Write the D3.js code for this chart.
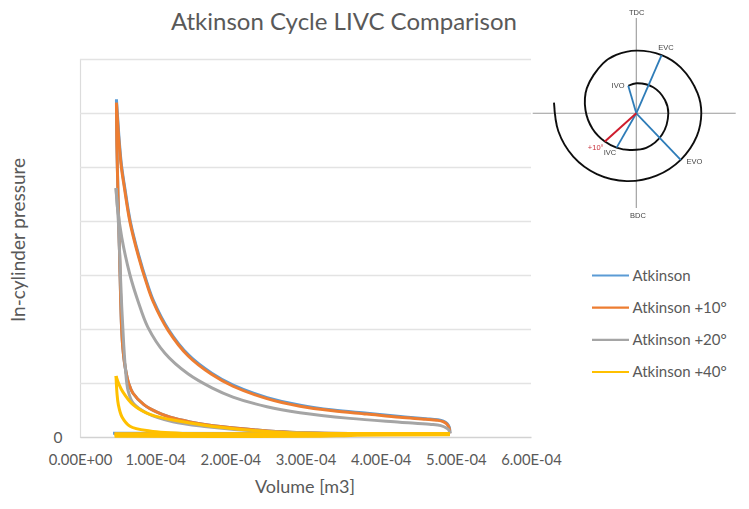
<!DOCTYPE html>
<html>
<head>
<meta charset="utf-8">
<script src="https://cdn.jsdelivr.net/npm/d3@7"></script>
<style>
html,body{margin:0;padding:0;background:#fff}
svg{display:block}
text{font-family:Lato,"Open Sans",sans-serif;fill:#595959}
</style>
</head>
<body>
<svg id="chart" width="749" height="509"></svg>
<script>
// Volume in cm3 (1e-6 m3), pressure in grid divisions above zero.
const xTicks = [0, 100, 200, 300, 400, 500, 600];
const xTickLabels = ['0.00E+00','1.00E-04','2.00E-04','3.00E-04','4.00E-04','5.00E-04','6.00E-04'];
const yGrid = [1, 2, 3, 4, 5, 6, 7];

// Each cycle: compression stroke up to peak pressure, power stroke down, gas exchange along the bottom.
const atkinsonCompV = [492,400,279,235.4,190,146.3,120,102.4,85,70.5,65,60,57,55.5,54.5,52.5,50.5,49,48.5];
const atkinsonCompP = [0.06,0.06,0.09,0.13,0.19,0.28,0.365,0.46,0.6,0.81,0.98,1.3,1.65,1.98,2.35,3.46,4.5,5.45,6.25];
const atkinsonExpV = [48.5,50.3,52.3,55.3,59.3,66.8,77.8,89,97.8,117.7,144.3,175.3,203.8,249,293,336.8,382,426,460,475.3,483.3,488.3,491.3,492.3];
const atkinsonExpP = [6.25,5.87,5.47,5.02,4.64,4.0,3.38,2.86,2.52,1.99,1.52,1.18,0.96,0.73,0.59,0.5,0.44,0.38,0.34,0.32,0.295,0.25,0.18,0.07];
const atkinsonGasV = [492,44];
const atkinsonGasP = [0.06,0.07];

const plus10CompV = [492,400,279,235.4,190,146.3,120,102.4,85,70.5,65,60,57,55.5,54.5,52.5,50.5,49,48.5];
const plus10CompP = [0.06,0.06,0.09,0.13,0.19,0.28,0.365,0.46,0.6,0.81,0.98,1.3,1.65,1.98,2.35,3.46,4.5,5.4,6.19];
const plus10ExpV = [48.5,50,52,55,59,66.5,77.5,88.7,97.5,117.4,144,175,203.5,248.7,292.6,336.4,381.6,425.5,460,475,483,488,491,492];
const plus10ExpP = [6.19,5.85,5.45,5,4.62,3.98,3.36,2.84,2.5,1.97,1.5,1.16,0.94,0.71,0.57,0.485,0.425,0.365,0.33,0.31,0.285,0.24,0.17,0.07];
const plus10GasV = [492,46];
const plus10GasP = [0.06,0.06];

const plus20CompV = [492,320,235.4,168.9,123.7,89.1,70.5,63.8,60.5,58,55.5,53,51,47.9];
const plus20CompP = [0.06,0.07,0.11,0.19,0.28,0.44,0.63,0.87,1.25,1.75,2.41,3.3,4,4.61];
const plus20ExpV = [47.9,49.9,55.5,66.5,77.1,90.4,113,143.6,175.5,203.5,248.7,292.6,359,425.5,465,480,488,491,492];
const plus20ExpP = [4.61,4.25,3.7,3,2.52,2.03,1.55,1.17,0.91,0.74,0.56,0.45,0.345,0.275,0.235,0.21,0.16,0.12,0.07];
const plus20GasV = [492,46];
const plus20GasP = [0.06,0.06];

const plus40CompV = [492,279,146.3,93,66.5,55.9,51,49.2,47.9];
const plus40CompP = [0.055,0.055,0.06,0.11,0.2,0.37,0.6,0.81,1.13];
const plus40ExpV = [47.9,52,57.2,70.5,93,146.3,190,235.4,279,350,492];
const plus40ExpP = [1.13,0.97,0.83,0.6,0.42,0.26,0.175,0.115,0.08,0.065,0.065];
const plus40GasV = [492,360,320,46];
const plus40GasP = [0.04,0.03,0.012,0.012];
const plus40ExhaustV = [492,46];
const plus40ExhaustP = [0.062,0.062];
const plus40MidV = [320,46];
const plus40MidP = [0.035,0.035];

const seriesNames = ['Atkinson','Atkinson +10°','Atkinson +20°','Atkinson +40°'];
const seriesColors = ['#5b9bd5','#ed7d31','#a5a5a5','#ffc000'];

// Valve timing inset: crank angle in degrees clockwise from TDC, radius in px.
const spiralAngle = [-16.3,0.6,33,65,90,130,164,190,210,228,251,274,297,326,341,360,383.5,404,432,450,471,496,522,548,573,595.5,617,637.4];
const spiralRadius = [28.7,30,31,31.6,32,33.5,36,37.2,39.6,42.3,46.5,51,55.5,60,61.8,62.7,63.5,63.8,64.5,65,64.7,64.3,65.5,68.5,72.5,76.5,80,83];
const valveNames = ['EVC','IVO','IVC','EVO'];
const valveAngle = [23.5,-16.3,209.8,136.3];
const valveRadius = [63.5,28.7,39.6,64.3];
const lateAngle = 228, lateRadius = 42.3;

const svg = d3.select('#chart');
const x = d3.scaleLinear().domain([0, 600]).range([80, 531]);
const y = d3.scaleLinear().domain([0, 7]).range([437, 59]);

// Gridlines
svg.append('g').attr('transform','translate(80,0)')
  .call(d3.axisLeft(y).tickValues(yGrid).tickSize(-451).tickFormat(''))
  .call(g => g.select('.domain').attr('stroke','#dcdcdc').attr('stroke-width',1.2))
  .call(g => g.selectAll('line').attr('stroke','#e3e3e3').attr('stroke-width',1.4));

// Horizontal axis
svg.append('g').attr('transform','translate(0,437)')
  .call(d3.axisBottom(x).tickValues(xTicks).tickSize(0).tickPadding(17).tickFormat((d,i)=>xTickLabels[i]))
  .call(g => g.select('.domain').attr('stroke','#d2d2d2').attr('stroke-width',1.5))
  .call(g => g.selectAll('text').attr('font-size',14.8).style('font-family','Lato'));

svg.append('text').attr('x',58).attr('y',443).attr('text-anchor','middle').attr('font-size',15.5).text('0');

// Titles
svg.append('text').attr('x',344).attr('y',29.5).attr('text-anchor','middle').attr('font-size',24).text('Atkinson Cycle LIVC Comparison');
svg.append('text').attr('x',305).attr('y',493).attr('text-anchor','middle').attr('font-size',18).text('Volume [m3]');
svg.append('text').attr('transform','translate(25,240) rotate(-90)').attr('text-anchor','middle').attr('font-size',19).text('In-cylinder pressure');

// Pressure-volume loops, one smooth path per stroke so the peak keeps its sharp corner
const stroke = d3.line().x(d=>x(d[0])).y(d=>y(d[1])).curve(d3.curveCatmullRom.alpha(0.5));
[
  [[atkinsonGasV,atkinsonGasP],[atkinsonCompV,atkinsonCompP],[atkinsonExpV,atkinsonExpP]],
  [[plus10GasV,plus10GasP],[plus10CompV,plus10CompP],[plus10ExpV,plus10ExpP]],
  [[plus20GasV,plus20GasP],[plus20CompV,plus20CompP],[plus20ExpV,plus20ExpP]],
  [[plus40GasV,plus40GasP],[plus40ExhaustV,plus40ExhaustP],[plus40MidV,plus40MidP],[plus40CompV,plus40CompP],[plus40ExpV,plus40ExpP]]
].forEach((strokes,i)=>{
  const g = svg.append('g').attr('fill','none').attr('stroke',seriesColors[i]).attr('stroke-width',3);
  strokes.forEach(s=>g.append('path').attr('d',stroke(d3.zip(s[0],s[1]))));
});

// Legend
const legendY = d3.scalePoint().domain(seriesNames).range([275.5,372]);
const legend = svg.append('g').selectAll('g').data(seriesNames).join('g')
  .attr('transform',d=>`translate(0,${legendY(d)})`);
legend.append('line').attr('x1',592).attr('x2',629)
  .attr('stroke',(d,i)=>seriesColors[i]).attr('stroke-width',2.2);
legend.append('text').attr('x',632.5).attr('y',5).attr('font-size',15).text(d=>d);

// Valve timing inset
const defs = svg.append('defs');
defs.append('filter').attr('id','soft').append('feGaussianBlur').attr('stdDeviation',0.4);
const inset = svg.append('g').attr('transform','translate(636.3,113.3)').attr('filter','url(#soft)');
const rad = d3.scaleLinear().domain([0,360]).range([0,2*Math.PI]);
const polar = (a,r)=>[r*Math.sin(rad(a)),-r*Math.cos(rad(a))];

inset.append('line').attr('x1',-103.6).attr('x2',99.4).attr('stroke','#9a9a9a').attr('stroke-width',1.1);
inset.append('line').attr('y1',-95.3).attr('y2',94.7).attr('stroke','#9a9a9a').attr('stroke-width',1.1);

inset.append('path')
  .attr('d',d3.lineRadial().angle(d=>rad(d[0])).radius(d=>d[1]).curve(d3.curveCatmullRom)(d3.zip(spiralAngle,spiralRadius)))
  .attr('fill','none').attr('stroke','#111').attr('stroke-width',1.9);

inset.selectAll('line.valve').data(valveAngle).join('line').attr('class','valve')
  .attr('x2',(d,i)=>polar(d,valveRadius[i])[0]).attr('y2',(d,i)=>polar(d,valveRadius[i])[1])
  .attr('stroke','#2e7cb8').attr('stroke-width',1.8);
inset.append('line').attr('x2',polar(lateAngle,lateRadius)[0]).attr('y2',polar(lateAngle,lateRadius)[1])
  .attr('stroke','#cf1f2e').attr('stroke-width',2);

// Inset labels
const insetLabels = ['TDC','BDC',...valveNames,'+10°'];
const insetLabelX = [0.4,1.7,29.7,-18.3,-26.3,58,-40.6];
const insetLabelY = [-100.6,101.7,-65.6,-28.3,39.4,48,34];
inset.selectAll('text').data(insetLabels).join('text')
  .attr('x',(d,i)=>insetLabelX[i]).attr('y',(d,i)=>insetLabelY[i]+2.6)
  .attr('text-anchor','middle').attr('font-size',7.5)
  .style('font-family','Liberation Sans').style('fill',d=>d==='+10°'?'#c8323c':'#444')
  .text(d=>d);
</script>
</body>
</html>
